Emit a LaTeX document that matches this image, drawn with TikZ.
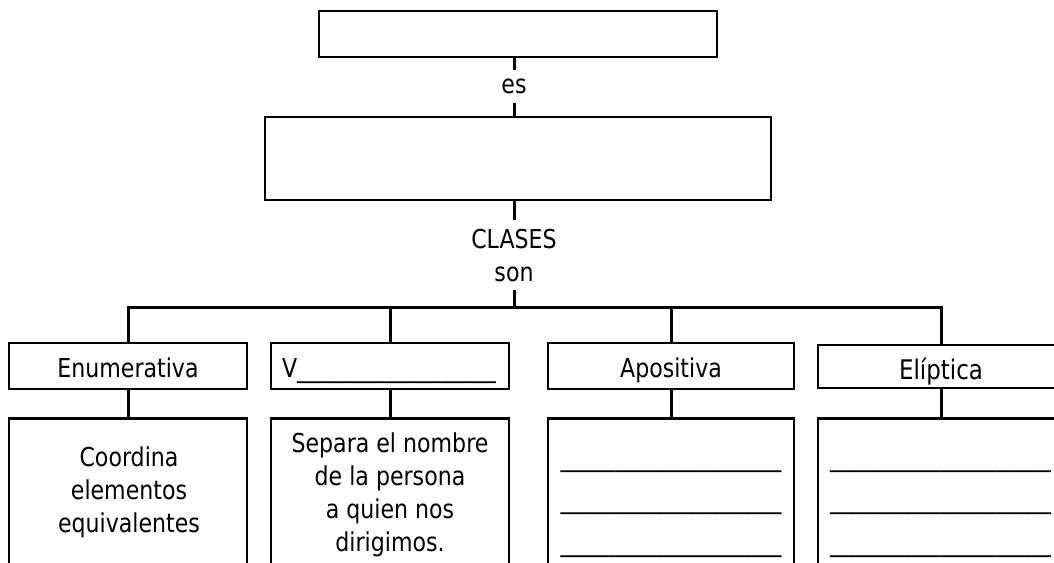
\documentclass[tikz,border=0pt]{standalone}
\usepackage{fontspec}
\setmainfont{DejaVu Sans}[FakeStretch=0.85]
\newcommand\txtsize{\fontsize{26}{33}\selectfont}
\begin{document}
\begin{tikzpicture}[x=1pt,y=-1pt,
  box/.style={draw=black, line width=2.7pt, inner sep=0pt, font=\txtsize},
  hbox/.style={box, text height=22pt, text depth=0pt},
  lbl/.style={inner sep=0pt, font=\txtsize},
  bodytext/.style={inner sep=0pt, font=\txtsize, align=center},
  blank/.style={inner sep=0pt, font=\txtsize, anchor=base},
  conn/.style={draw=black, line width=3pt}]
\useasboundingbox (0,0) rectangle (1054,562);
\clip (0,0) rectangle (1054,562);
% top boxes
\node[box, minimum width=398, minimum height=46] (top) at (518,34) {};
\node[box, minimum width=506, minimum height=83] (def) at (518,158.5) {};
\node[lbl, minimum height=33] (es) at (514,86.5) {es};
\node[lbl, minimum height=38] (clases) at (514,239) {CLASES};
\node[lbl, minimum height=32] (son) at (514,274) {son};
\coordinate (bar) at (514,307);
\draw[conn] (es.north) -- (es.north |- top.south);
\draw[conn] (es.south) -- (es.south |- def.north);
\draw[conn] (clases.north) -- (clases.north |- def.south);
\draw[conn] (son.south) -- (bar);
% row 1
\node[hbox, minimum width=238, minimum height=46] (b1) at (128,366) {Enumerativa};
\node[hbox, minimum height=46, text width=216, inner xsep=11pt, align=left] (b2) at (390,366) {V\_\_\_\_\_\_\_\_\_\_\_\_\_\_\_\_\_\_};
\node[hbox, minimum width=246, minimum height=46] (b3) at (671,366) {Apositiva};
\node[hbox, minimum width=246, minimum height=43, text height=25pt, font=\fontsize{27}{30}\selectfont] (b4) at (941,366.5) {Elíptica};
\draw[conn] (b1.north) -- (b1.north |- bar) -- (b4.north |- bar) -- (b4.north);
\draw[conn] (b2.north) -- (b2.north |- bar);
\draw[conn] (b3.north) -- (b3.north |- bar);
% row 2
\node[box, anchor=north, minimum width=238, minimum height=200] (d1) at (128,417) {};
\node[box, anchor=north, minimum width=238, minimum height=200] (d2) at (390,417) {};
\node[box, anchor=north, minimum width=246, minimum height=200] (d3) at (671,417) {};
\node[box, anchor=north, minimum width=246, minimum height=200] (d4) at (941,417) {};
\draw[conn] (b1.south) -- (d1.north);
\draw[conn] (b2.south) -- (d2.north);
\draw[conn] (b3.south) -- (d3.north);
\draw[conn] (b4.south) -- (d4.north);
\node[bodytext] (t1) at (129,492.5) {Coordina\\elementos\\equivalentes};
\node[bodytext] (t2) at (390,495) {Separa el nombre\\de la persona\\a quien nos\\dirigimos.};
\node[blank] (u31) at (671,466.5) {\_\_\_\_\_\_\_\_\_\_\_\_\_\_\_\_\_\_\_\_};
\node[blank] (u32) at (671,508.5) {\_\_\_\_\_\_\_\_\_\_\_\_\_\_\_\_\_\_\_\_};
\node[blank] (u33) at (671,551.5) {\_\_\_\_\_\_\_\_\_\_\_\_\_\_\_\_\_\_\_\_};
\node[blank] (u41) at (940.5,466.5) {\_\_\_\_\_\_\_\_\_\_\_\_\_\_\_\_\_\_\_\_};
\node[blank] (u42) at (940.5,508.5) {\_\_\_\_\_\_\_\_\_\_\_\_\_\_\_\_\_\_\_\_};
\node[blank] (u43) at (940.5,551.5) {\_\_\_\_\_\_\_\_\_\_\_\_\_\_\_\_\_\_\_\_};
\end{tikzpicture}
\end{document}
